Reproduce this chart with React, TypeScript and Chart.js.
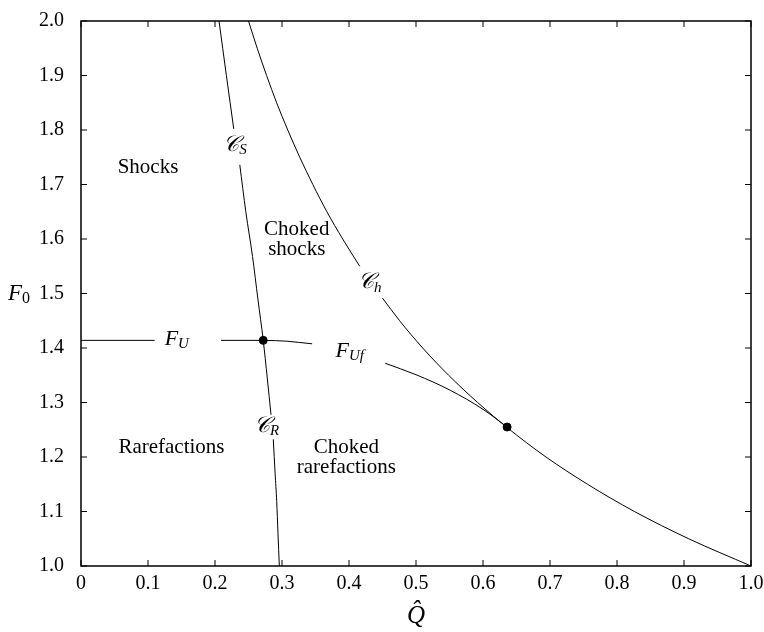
import { useEffect, useRef } from "react"
import { Chart, registerables } from "chart.js"

Chart.register(...registerables)

// Curva C_S (arriba del rótulo)
const csTopQ = [0.206, 0.217, 0.228]
const csTopF = [2.0, 1.9, 1.802]
// C_S bajo el rótulo, pasando por el punto triple hasta el rótulo de C_R
const csMidQ = [0.237, 0.246, 0.256, 0.264, 0.272, 0.278, 0.2836]
const csMidF = [1.736, 1.65, 1.568, 1.49, 1.414, 1.345, 1.2775]
// C_R bajo su rótulo
const crLowQ = [0.287, 0.2897, 0.2921, 0.294, 0.296]
const crLowF = [1.2325, 1.17, 1.1187, 1.06, 1.0]
// C_h
const chTopQ = [0.25, 0.263, 0.277, 0.292, 0.3086, 0.3265, 0.346, 0.367, 0.3906, 0.416]
const chTopF = [2.0, 1.95, 1.9, 1.85, 1.8, 1.75, 1.7, 1.65, 1.6, 1.55]
const chLowQ = [0.45, 0.4756, 0.51, 0.5487, 0.592, 0.635, 0.694, 0.756, 0.826, 0.907, 1.0]
const chLowF = [1.4915, 1.45, 1.4, 1.35, 1.3, 1.255, 1.2, 1.15, 1.1, 1.05, 1.0]
// F_U
const fuLeftQ = [0, 0.11]
const fuLeftF = [1.414, 1.414]
const fuRightQ = [0.209, 0.272]
const fuRightF = [1.414, 1.414]
// F_Uf
const fufNearQ = [0.272, 0.29, 0.307, 0.325, 0.345]
const fufNearF = [1.414, 1.4135, 1.4125, 1.4103, 1.4077]
const fufFarQ = [0.454, 0.5, 0.551, 0.6, 0.636]
const fufFarF = [1.372, 1.351, 1.3225, 1.2875, 1.255]
// Puntos
const dotQ = [0.272, 0.636]
const dotF = [1.414, 1.255]

// Rótulos de regiones
const regionTexts = ["Shocks", "Choked", "shocks", "Rarefactions", "Choked", "rarefactions"]
const regionQ = [0.1, 0.322, 0.322, 0.135, 0.396, 0.396]
const regionF = [1.732, 1.617, 1.581, 1.218, 1.218, 1.18]

// Rótulos de curvas
const curveMain = ["\u{1D49E}", "\u{1D49E}", "\u{1D49E}", "F", "F"]
const curveSub = ["S", "h", "R", "U", "Uf"]
const curveQ = [0.23, 0.431, 0.277, 0.143, 0.401]
const curveF = [1.772, 1.52, 1.257, 1.4155, 1.394]

const SERIF = "'Liberation Serif', 'DejaVu Serif', serif"

const puntos = (qs: number[], fs: number[]) => qs.map((q, i) => ({ x: q, y: fs[i] }))

const linea = (qs: number[], fs: number[]) => ({
  data: puntos(qs, fs),
  showLine: true,
  borderColor: "#000",
  borderWidth: 1,
  pointRadius: 0,
  cubicInterpolationMode: "monotone" as const,
})

const overlay = {
  id: "overlay",
  afterDraw(chart: any) {
    const { ctx, chartArea: a, scales } = chart
    const sx = scales.x
    const sy = scales.y
    ctx.save()
    ctx.strokeStyle = "#000"
    ctx.lineWidth = 1.5
    ctx.strokeRect(a.left, a.top, a.right - a.left, a.bottom - a.top)

    // marcas hacia adentro
    ctx.lineWidth = 1
    ctx.beginPath()
    sx.ticks.forEach((t: any) => {
      const px = sx.getPixelForValue(t.value)
      ctx.moveTo(px, a.bottom)
      ctx.lineTo(px, a.bottom - 6)
      ctx.moveTo(px, a.top)
      ctx.lineTo(px, a.top + 6)
    })
    sy.ticks.forEach((t: any) => {
      const py = sy.getPixelForValue(t.value)
      ctx.moveTo(a.left, py)
      ctx.lineTo(a.left + 6, py)
      ctx.moveTo(a.right, py)
      ctx.lineTo(a.right - 6, py)
    })
    ctx.stroke()

    ctx.fillStyle = "#000"
    ctx.textBaseline = "middle"
    ctx.textAlign = "center"
    ctx.font = `21px ${SERIF}`
    regionTexts.forEach((txt, i) => {
      ctx.fillText(txt, sx.getPixelForValue(regionQ[i]), sy.getPixelForValue(regionF[i]))
    })

    // rótulos con subíndice
    ctx.textAlign = "left"
    curveMain.forEach((m, i) => {
      const mainFont = `italic 22px ${SERIF}`
      const subFont = `italic 15px ${SERIF}`
      ctx.font = mainFont
      const wm = ctx.measureText(m).width
      ctx.font = subFont
      const ws = ctx.measureText(curveSub[i]).width
      const cx = sx.getPixelForValue(curveQ[i])
      const cy = sy.getPixelForValue(curveF[i])
      const x0 = cx - (wm + ws) / 2
      ctx.font = mainFont
      ctx.fillText(m, x0, cy)
      ctx.font = subFont
      ctx.fillText(curveSub[i], x0 + wm, cy + 5)
    })

    // títulos de ejes
    ctx.font = `italic 23px ${SERIF}`
    const fy = sy.getPixelForValue(1.5)
    ctx.fillText("F", a.left - 73, fy)
    const wf = ctx.measureText("F").width
    ctx.font = `16px ${SERIF}`
    ctx.fillText("0", a.left - 73 + wf, fy + 5)

    ctx.font = `italic 25px ${SERIF}`
    ctx.textAlign = "center"
    ctx.fillText("Q\u0302", sx.getPixelForValue(0.5), a.bottom + 50)
    ctx.restore()
  },
}

export default function App() {
  const canvasRef = useRef<HTMLCanvasElement>(null)
  const chartRef = useRef<Chart | null>(null)

  useEffect(() => {
    if (!canvasRef.current) return
    chartRef.current?.destroy()
    chartRef.current = new Chart(canvasRef.current, {
      type: "scatter",
      data: {
        datasets: [
          linea(csTopQ, csTopF),
          linea(csMidQ, csMidF),
          linea(crLowQ, crLowF),
          linea(chTopQ, chTopF),
          linea(chLowQ, chLowF),
          linea(fuLeftQ, fuLeftF),
          linea(fuRightQ, fuRightF),
          linea(fufNearQ, fufNearF),
          linea(fufFarQ, fufFarF),
          {
            data: puntos(dotQ, dotF),
            showLine: false,
            pointRadius: 4,
            pointBackgroundColor: "#000",
            pointBorderColor: "#000",
          },
        ],
      },
      options: {
        animation: false,
        responsive: true,
        maintainAspectRatio: false,
        layout: { padding: { top: 10, right: 13, left: 0, bottom: 0 } },
        plugins: { legend: { display: false }, tooltip: { enabled: false } },
        scales: {
          x: {
            type: "linear",
            min: 0,
            max: 1,
            grid: { display: false },
            border: { display: false },
            afterFit: (s: any) => {
              s.height = 66
            },
            ticks: {
              stepSize: 0.1,
              maxRotation: 0,
              padding: -2,
              color: "#000",
              font: { family: SERIF, size: 20 },
              callback: (v: any) => (Number(v) === 0 ? "0" : Number(v).toFixed(1)),
            },
          },
          y: {
            type: "linear",
            min: 1,
            max: 2,
            grid: { display: false },
            border: { display: false },
            afterFit: (s: any) => {
              s.width = 81
            },
            ticks: {
              stepSize: 0.1,
              padding: 9,
              color: "#000",
              font: { family: SERIF, size: 20 },
              callback: (v: any) => Number(v).toFixed(1),
            },
          },
        },
      },
      plugins: [overlay],
    })
    return () => {
      chartRef.current?.destroy()
      chartRef.current = null
    }
  }, [])

  return (
    <div style={{ position: "fixed", left: 0, top: 0, width: 764, height: 632, background: "#fff" }}>
      <canvas ref={canvasRef}></canvas>
    </div>
  )
}
